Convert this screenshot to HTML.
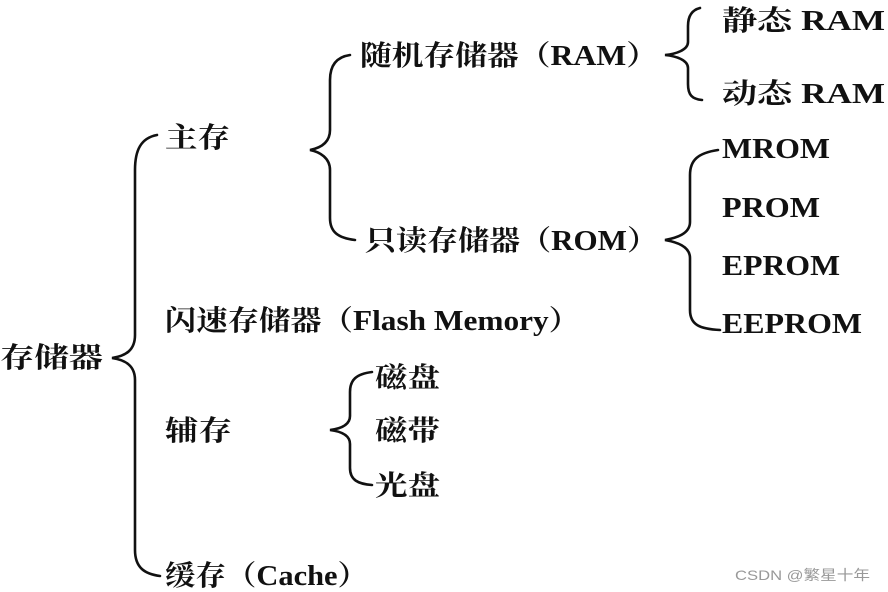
<!DOCTYPE html>
<html><head><meta charset="utf-8"><style>
html,body{margin:0;padding:0;background:#fff;width:888px;height:592px;overflow:hidden}
svg{display:block}
text{font-family:"Liberation Serif","Noto Serif CJK SC","Noto Sans CJK SC",serif;font-weight:bold;font-size:28px;fill:#111}
.w{font-family:"Liberation Sans","Noto Sans CJK SC",sans-serif;font-weight:normal;font-size:14px;fill:#999}
path{fill:none;stroke:#111;stroke-width:2.6;stroke-linecap:round}
</style></head><body>
<svg width="888" height="592" viewBox="0 0 888 592" xmlns="http://www.w3.org/2000/svg">
<path d="M157,135 C141,138 135,150 135,170 L135,335 C135,350 126,356 112,358 C126,360 135,366 135,380 L135,550 C135,568 145,574 160,576"/>
<path d="M350,55 C336,57 330,66 330,80 L330,130 C330,143 320,148 310,150 C320,152 330,158 330,170 L330,218 C330,232 338,238 355,240"/>
<path d="M700,8 C692,10 688,16 688,26 L688,42 C688,50 676,54 665,55 C676,56 688,60 688,68 L688,84 C688,95 692,99 702,100"/>
<path d="M718,150 C698,153 690,160 690,175 L690,222 C690,234 676,238 665,240 C676,242 690,246 690,258 L690,310 C690,325 700,329 720,330"/>
<path d="M372,372 C356,374 350,380 350,392 L350,416 C350,426 338,429 330,430 C338,431 350,434 350,444 L350,468 C350,480 358,484 372,485"/>
<text x="0" y="367" textLength="103" lengthAdjust="spacingAndGlyphs">存储器</text>
<text x="165" y="147" textLength="65" lengthAdjust="spacingAndGlyphs">主存</text>
<text x="360" y="65" textLength="298" lengthAdjust="spacingAndGlyphs">随机存储器（RAM）</text>
<text x="365" y="250" textLength="293" lengthAdjust="spacingAndGlyphs">只读存储器（ROM）</text>
<text x="165" y="330" textLength="415" lengthAdjust="spacingAndGlyphs">闪速存储器（Flash Memory）</text>
<text x="165" y="440" textLength="67" lengthAdjust="spacingAndGlyphs">辅存</text>
<text x="165" y="585" textLength="203" lengthAdjust="spacingAndGlyphs">缓存（Cache）</text>
<text x="722" y="30" textLength="163" lengthAdjust="spacingAndGlyphs">静态 RAM</text>
<text x="722" y="103" textLength="163" lengthAdjust="spacingAndGlyphs">动态 RAM</text>
<text x="722" y="158" textLength="108" lengthAdjust="spacingAndGlyphs">MROM</text>
<text x="722" y="217" textLength="98" lengthAdjust="spacingAndGlyphs">PROM</text>
<text x="722" y="275" textLength="118" lengthAdjust="spacingAndGlyphs">EPROM</text>
<text x="722" y="333" textLength="140" lengthAdjust="spacingAndGlyphs">EEPROM</text>
<text x="375" y="387" textLength="65" lengthAdjust="spacingAndGlyphs">磁盘</text>
<text x="375" y="440" textLength="65" lengthAdjust="spacingAndGlyphs">磁带</text>
<text x="375" y="495" textLength="65" lengthAdjust="spacingAndGlyphs">光盘</text>
<text class="w" x="735" y="580" textLength="135" lengthAdjust="spacingAndGlyphs">CSDN @繁星十年</text>
</svg>
</body></html>
